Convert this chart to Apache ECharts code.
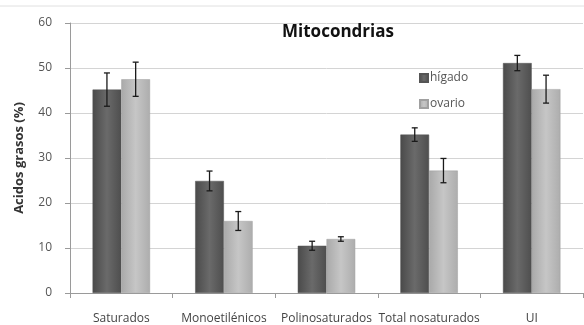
<!DOCTYPE html>
<html><head><meta charset="utf-8">
<script src="https://cdn.jsdelivr.net/npm/echarts@6/dist/echarts.min.js"></script>
<style>html,body{margin:0;padding:0;background:#fff}#c{width:584px;height:325px}</style>
</head><body><div id="c"></div>
<script>
const categories = ['Saturados','Monoetilénicos','Polinosaturados','Total nosaturados','UI'];
const higado = [45.2, 24.9, 10.5, 35.2, 51.1];
const higadoErr = [3.7, 2.2, 1.0, 1.5, 1.7];
const ovario = [47.5, 16.0, 12.0, 27.2, 45.3];
const ovarioErr = [3.8, 2.1, 0.5, 2.7, 3.1];
const yTicks = [0, 10, 20, 30, 40, 50, 60];

const chart = echarts.init(document.getElementById('c'));
const font = 'Open Sans';
function errSeries(vals, errs, idx) {
  return {
    type: 'custom', z: 10,
    data: vals.map((v, i) => [i, v - errs[i], v + errs[i]]),
    renderItem: function (params, api) {
      const i = api.value(0);
      const lo = api.coord([i, api.value(1)]);
      const hi = api.coord([i, api.value(2)]);
      const bw = api.size([1, 0])[0];
      const barW = bw * 0.28;
      const x = lo[0] + (idx === 0 ? -barW / 2 : barW / 2);
      const cap = 3;
      const st = {stroke: '#1a1a1a', lineWidth: 1.3};
      return {type: 'group', children: [
        {type: 'line', shape: {x1: x, y1: lo[1], x2: x, y2: hi[1]}, style: st},
        {type: 'line', shape: {x1: x - cap, y1: lo[1], x2: x + cap, y2: lo[1]}, style: st},
        {type: 'line', shape: {x1: x - cap, y1: hi[1], x2: x + cap, y2: hi[1]}, style: st}
      ]};
    }
  };
}
function grad(c1, c2, c3) {
  return new echarts.graphic.LinearGradient(0, 0, 1, 0, [
    {offset: 0, color: c1}, {offset: 0.5, color: c2}, {offset: 1, color: c3}
  ]);
}
chart.setOption({
  animation: false,
  textStyle: {fontFamily: font},
  title: {text: 'Mitocondrias', left: 333, top: 19, textAlign: 'center',
    textStyle: {fontSize: 17, fontWeight: 'bold', color: '#111', fontFamily: font}},
  legend: {orient: 'vertical', left: 414, top: 67, itemWidth: 8, itemHeight: 8, itemGap: 14,
    icon: 'rect', textStyle: {fontSize: 12, color: '#555', fontFamily: font, padding: [0, 0, 0, -3]},
    data: ['hígado', 'ovario']},
  grid: {left: 70, right: 1, top: 23, bottom: 32},
  xAxis: {type: 'category', data: categories,
    axisLine: {lineStyle: {color: '#9a9a9a'}},
    axisTick: {show: true, length: 5, lineStyle: {color: '#9a9a9a'}},
    axisLabel: {interval: 0, fontSize: 12, color: '#444', margin: 20, fontFamily: font}},
  yAxis: {type: 'value', min: 0, max: 60, interval: 10,
    name: 'Acidos grasos (%)', nameLocation: 'middle', nameGap: 44, nameRotate: 90,
    nameTextStyle: {fontSize: 13, fontWeight: 'bold', color: '#333', fontFamily: font},
    axisLine: {show: true, lineStyle: {color: '#9a9a9a'}},
    axisTick: {show: true, length: 5, lineStyle: {color: '#9a9a9a'}},
    axisLabel: {fontSize: 12, color: '#555', margin: 18, fontFamily: font,
      formatter: v => yTicks.includes(v) ? String(v) : ''},
    splitLine: {lineStyle: {color: '#d4d4d4'}}},
  series: [
    {name: 'hígado', type: 'bar', data: higado, barWidth: '28%', barGap: '0%',
      itemStyle: {color: grad('#4a4a4a', '#6a6a6a', '#4e4e4e'), borderColor: '#555', borderWidth: 0.5}},
    {name: 'ovario', type: 'bar', data: ovario, barWidth: '28%', barGap: '0%',
      itemStyle: {color: grad('#a9a9a9', '#c6c6c6', '#adadad'), borderColor: '#a0a0a0', borderWidth: 0.5}},
    errSeries(higado, higadoErr, 0),
    errSeries(ovario, ovarioErr, 1)
  ],
  graphic: [{type: 'line', shape: {x1: 0, y1: 6, x2: 584, y2: 6}, style: {stroke: '#e0e0e0', lineWidth: 1}}]
});
</script></body></html>
